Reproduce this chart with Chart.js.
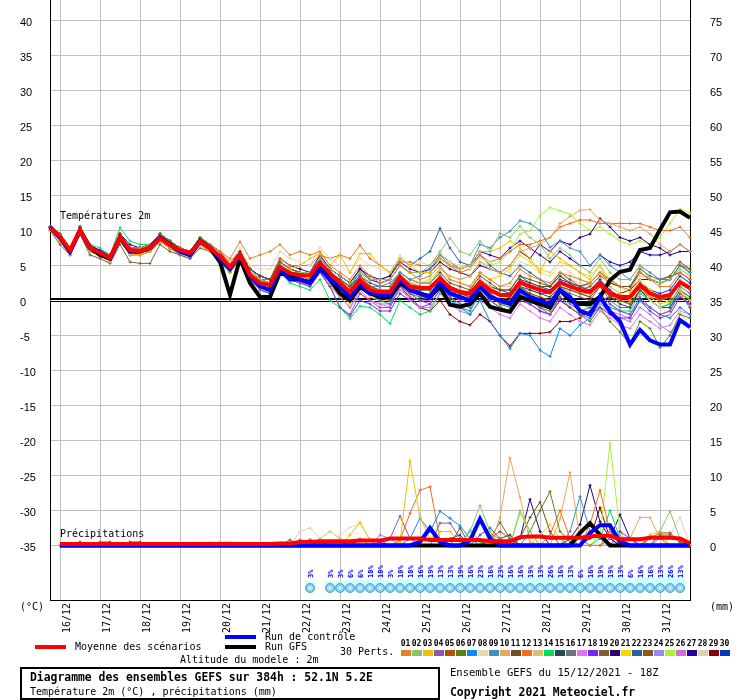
<!DOCTYPE html>
<html><head><meta charset="utf-8">
<script src="https://cdn.jsdelivr.net/npm/chart.js@4.4.1/dist/chart.umd.min.js"></script>
<style>
html,body{margin:0;padding:0;background:#fff;width:740px;height:700px;overflow:hidden;position:relative}
canvas{position:absolute;left:0;top:0}
.t{position:absolute;font:10px 'DejaVu Sans Mono',monospace;line-height:12px;white-space:pre;color:#000}
.b{font-weight:bold;font-size:11.4px;line-height:14px}
.ln{position:absolute;height:4px;width:31px}
.sq{position:absolute;top:650px;width:10px;height:6px}
.num{position:absolute;top:639px;width:11px;text-align:center;font:bold 8px 'DejaVu Sans Mono',monospace;line-height:10px;color:#000}
#box{position:absolute;left:20px;top:667px;width:420px;height:33px;border:2px solid #000;box-sizing:border-box}
</style></head>
<body>
<canvas id="c" width="740" height="640"></canvas>
<div class="t" style="left:20px;top:601px">(°C)</div>
<div class="t" style="left:710px;top:601px">(mm)</div>
<div class="t" style="left:60px;top:210px">Températures 2m</div>
<div class="t" style="left:60px;top:528px">Précipitations</div>
<div class="ln" style="left:35px;top:645px;background:#ff0000"></div>
<div class="t" style="left:75px;top:641px">Moyenne des scénarios</div>
<div class="ln" style="left:225px;top:635px;background:#0000ff"></div>
<div class="t" style="left:265px;top:631px">Run de contrôle</div>
<div class="ln" style="left:225px;top:645px;background:#000"></div>
<div class="t" style="left:265px;top:641px">Run GFS</div>
<div class="t" style="left:340px;top:646px">30 Perts.</div>
<div class="t" style="left:180px;top:654px">Altitude du modele : 2m</div>
<div id="legendNums"></div>
<div id="box"></div>
<div class="t b" style="left:30px;top:670px">Diagramme des ensembles GEFS sur 384h : 52.1N 5.2E</div>
<div class="t" style="left:30px;top:686px">Température 2m (°C) , précipitations (mm)</div>
<div class="t" style="left:450px;top:666px;font-size:10.5px">Ensemble GEFS du 15/12/2021 - 18Z</div>
<div class="t b" style="left:450px;top:685px">Copyright 2021 Meteociel.fr</div>
<script>
// ---- categories / tick labels (6-hourly steps from 15/12 18Z) ----
const timeLabels = ['','16/12','','','','17/12','','','','18/12','','','','19/12','','','','20/12','','','','21/12','','','','22/12','','','','23/12','','','','24/12','','','','25/12','','','','26/12','','','','27/12','','','','28/12','','','','29/12','','','','30/12','','','','31/12','','',''];
const leftTicks = [-35,-30,-25,-20,-15,-10,-5,0,5,10,15,20,25,30,35,40];
const rightTicks = [0,5,10,15,20,25,30,35,40,45,50,55,60,65,70,75];

// ---- snow probability (%) per step ----
const snowPct = [null,null,null,null,null,null,null,null, null,null,null,null,null,null,null,null, null,null,null,null,null,null,null,null,
 null,null,3,null,3,3,6,6, 10,10,3,10,10,16,19,13, 13,19,16,23,16,23,16,16, 19,13,26,16,13,6,16,19, 19,13,6,16,16,13,26,13, null];

// ---- temperature 2m (°C) ----
const tMean = [10.4,9.1,7.2,10.1,7.5,6.8,6.1,9.1, 7.2,7.0,7.5,8.9,7.9,7.2,6.8,8.4, 7.5,6.3,4.8,6.5,3.6,2.5,2.2,4.8, 3.9,3.6,3.6,5.4,3.9,2.5,1.2,2.9, 1.5,1.2,1.2,3.4,2.0,1.8,1.8,3.2, 1.8,1.2,1.0,2.6,1.5,0.8,0.8,2.6, 2.0,1.5,1.2,2.6,2.0,1.5,1.2,2.5, 1.0,0.5,0.5,2.2,1.0,0.5,0.8,2.6, 1.8];
const tControl = [10.5,9,7,10,7.5,7,6,9, 7,7,7.5,9,8,7,6.5,8.5, 7.5,6,4.5,6.5,3.5,2,1.5,4.5, 3,3,2.5,4.5,3,2,0.5,2.5, 1,0.8,0.8,3,1.5,1,0.5,2.5, 1,0.5,0,2,0.5,0,-0.5,1.5, 0.5,0,-0.5,1.5,0.5,-1.5,-2,0.5, -1.6,-3,-6.3,-4.2,-5.7,-6.3,-6.3,-2.8, -3.8];
const tGFS = [10.5,9,7,10,7.5,6.5,6,9, 7,7,7.5,9,8,7,6.5,8.5, 7.5,5.5,0.8,6,2.5,0.5,0.5,4, 3.5,3,2.5,5,3,1,0,2, 1,0.5,0.5,2.5,1.5,1,0.5,2, -0.6,-0.9,-0.5,1,-0.9,-1.3,-1.6,0.5, 0,-0.5,-1,1.5,0,-0.5,-0.5,0.5, 2.9,4.1,4.4,7.2,7.5,10.1,12.6,12.7, 11.8];
const t01 = [10.5,9.5,7.5,10,7.5,7,6.5,9, 7.5,7.5,8,9,8,7.5,7,8.5, 8,7,6,8.4,6,6.5,7,8, 6.5,7,6.5,7,5,4,3,5, 3.5,2.5,3,5,4,3,3.5,5, 3,2.5,2,4,3,2,2.5,4.5, 3.5,3,2.5,4,3.5,3,2.5,4, 3,2,1.5,4,3,2,2,4, 3];
const t02 = [10,9,7,10,7.5,7,6,9, 7,7,7.5,9,8,7,7,8.5, 7.5,6,4.5,6,4,3,2.5,5, 4,4,4,6,4.5,3.5,2.5,4, 3,3,3,5,4,4,5,7, 8.9,7,6.5,8.5,7,9.6,9,10.6, 9,8,6,7.5,6.5,5,4,6, 4,3,3,5,3,2.5,3,4.5, 3.5];
const t03 = [10,8.5,6.5,9.5,7,6.5,5.5,8.5, 6.5,6.5,7,8.5,7.5,7,6.5,8, 7,6,4,6,3,2,1.5,4.5, 4.5,5,6,6.7,5,6.5,4,6.7, 6.7,5,4,6,5,4,4,6, 5,4.5,5,7,7,7.5,8.5,7.5, 6,4,7,6,5,4,3,5, 2,1,0,2,0.5,-0.5,0,1.5, 0];
const t04 = [10.5,9,7,10,7.5,6.5,6,9, 7,7,7.5,8.5,7.5,7,6.5,8, 7,6,4,6,3,1.5,1,4, 3,2.5,2,4,2,-1,-2,1, 0,-1,-1,2,1,0,-0.5,1.5, 0.5,-0.5,-1,1,0,-1,-1.5,1, 0,-1,-2,0.5,-0.5,-1.5,-1,1, -0.5,-1.5,-2,0.5,-1,-2,-1.5,1, 0];
const t05 = [10,9,7,10,7.5,7,6,9.5, 7.5,7,7.5,9,8,7.5,7,8.5, 7.5,6.5,5,6.5,4,3,2.5,5, 4,3.5,3,5,4,3,2,3.5, 2,1.5,1,3,2,2,1.5,3, 1.5,1,0.5,2,1,-0.5,0,2, 1,0.5,0,2,1.5,1,0.5,2, 0.5,0,-0.5,1.5,0.5,0,0.5,2.5, 1.5];
const t06 = [10.5,9.5,7.5,10.5,8,7,6.5,9.5, 7.5,7.5,8,9.5,8.5,7.5,7,9, 8,6.5,5,7,4,3,2.5,5.5, 4.5,4,3.5,5,4,3,2,3, 2,1,1,3,2,1.5,1.5,3, 1.5,0.5,0,2,0.5,-0.5,-1,1, 0,-1,-1.5,0.5,-1,-2,-3,-1, -3,-4.5,-6.2,-3,-4,-6.7,-5,-2, -2.5];
const t07 = [10,9,7,10,7.5,6.5,6,9, 7,7,7.5,9,8,7,6.5,8.5, 7.5,6,4.5,6.5,3.5,2,1.5,4.5, 3.5,3,2.5,4.5,3,1.5,0,2, 1,0,-0.5,2.5,1,0,0.5,2.5, 0.5,-1,-2,0,-3,-5,-6.9,-4.7, -5,-7.1,-8,-4,-5,-3.5,-2.5,0, -1,-1.5,-2,0,-1,-2,-2.5,-1, -2];
const t08 = [10.5,9,7.5,10,8,7,6.5,9, 7.5,7,7.5,9,8,7.5,7,8.5, 7.5,6.5,5.5,7.5,5,4.5,4.5,7, 6,5.5,5,7.6,6,5,4,6, 5,4.5,4,6.5,5,5.5,5,7, 5.5,5,4.5,6,5.5,4.5,4,5.5, 5,4,3.5,5,4,3,2.5,4, 2,1,0.5,2,0,-1,-2,-1.5, -4];
const t09 = [10.5,9.5,7,10,7.5,7,6,9, 7,7,7.5,9,8,7,6.5,8.5, 7.5,6,4.5,6.5,3.5,2.5,2,5, 4,3.5,3.5,5.5,4,3,1.5,3.5, 2,2,2.5,4,3,3.5,4.5,6.5, 5.5,4.5,5,8,7.5,9,9.9,11.4, 11,10,7.6,8.5,7.5,7,5,6.5, 5,4,3,5,4,3,3,5, 4];
const t10 = [10,9,7,10,7.5,6.5,6,9, 7,7,7.5,9,8,7,6.5,8.5, 7.5,6,4.5,6.5,3.5,2.5,2,5, 4,3.5,3.5,5.5,4,2.5,1.5,3, 2,1.5,1.5,4,3,2.5,2.5,4.5, 3.5,3,3.5,5.5,4.5,4,5,7, 7.5,8,9,11,12,12.9,13,11.5, 11,10.5,10,10.5,9.5,8,7,8, 7];
const t11 = [10,9,7,10,7.5,6.5,6,9, 7,7,7,8.5,7.5,7,6.5,8, 7,6,5,7,4.5,3.5,3,5.5, 4.5,4,4,5.5,4,3,2,3.5, 2.5,2,2,4,3,2.5,2.5,4, 2.5,2,1.5,3.5,2.5,1.5,1.5,3.5, 2.5,2,2,3.5,2.5,2,2.5,4, 2.5,2,2,4,3,2.5,3,5, 4];
const t12 = [10.5,9.5,7.5,10.5,8,7,6.5,9.5, 7.5,7.5,8,9.5,8.5,7.5,7,9, 8,7,5.5,7,4.5,3,3,6, 5,5,5,6.5,6,6.5,6,7.9, 6,5,4,5.5,5.5,5,5,6.5, 5,4,4.5,6.5,5.5,6,7,8, 8,8.5,9,10.5,11,11.5,11.5,11, 11,11,11,11,10.5,10,10,10.5, 9];
const t13 = [10,9,7,10,7.5,7,6,9, 7,7,7.5,9,8,7,6.5,8.5, 7.5,6,5,6.5,4,3,2.5,5, 4,3.5,3.5,5,4,2.5,1,3, 1.5,1,1.5,3.5,2.5,2,2,3.5, 2,1.5,1,3,2,1,1,2.5, 2,1.5,1,2.5,2,1,1,2.5, 1,0,0,2,1,0,0.5,3, 2];
const t14 = [10.5,9.5,7.5,10.5,8,7.5,6.5,10.4, 8.5,8,8,9.5,8.5,7.5,7,9, 8,6,4,6,3,2,1,4, 2.5,2,1.5,3,0,-1,-2.6,-0.8, -1,-2,-3.3,0,-1,-2,-1.5,1, 0,-1,-1.5,1,0,-1,0,2, 1,0,-0.5,1.5,0.5,-0.5,-1,1, -0.5,-1.5,-1.5,1,0,-1,-0.5,1.5, 0];
const t15 = [10.5,9,7,10,7.5,7,6,9, 7,7,7.5,9,8,7,7,8.5, 7.5,6.5,5,6.5,3.5,2.5,2,4.5, 3.5,3.5,3.5,5.5,4,2.5,1,3, 1.5,1,1,3,2,1.5,1.5,3, 1.5,1,0.5,2.5,1,0,0,2, 1.5,1,0.5,2,1.5,1,0.5,2, 0.5,-0.5,-1,1.5,0,-1,-1,1.5, 0.5];
const t16 = [10,8.5,7,9.5,7,6.5,5.5,8.5, 6.5,6.5,7,8.5,7.5,6.5,6,8, 7,5.5,4,6,3,2,1.5,4, 3,3,3,5,3.5,2,0.5,2.5, 1,0.5,0.5,2.5,1.5,1,1,3, 1,0.5,0,2,1,0,0,2, 1,0.5,0,2,1,0.5,0,2, 0,-1,-1,1.5,0,-1,-0.5,2, 1];
const t17 = [10,9,7,10,7.5,6.5,6,9, 7,7,7.5,9,8,7,6.5,8.5, 7.5,6,4.5,6,3.5,2.5,2,4.5, 3,2.5,2,4,2.5,0.5,-1,1.5, 0,-0.5,-1,2,0,-1,-1,1, -0.5,-1.5,-2,0,-1,-2,-2.5,-0.5, -1.5,-2.5,-3,-1,-2,-3,-3.5,-1.5, -2.5,-3.5,-4,-2,-3,-4,-3.5,-1.5, -2];
const t18 = [10.5,9,7,10,7.5,7,6,9, 7,7,7.5,9,8,7.5,7,8.5, 7.5,6,5,6.5,3.5,2.5,2,5, 3.5,3,2.5,4,2,-1,-2.2,0, -0.5,-1.5,-1.5,1,0,-1,-0.5,1.5, 0,-1,-1.5,1,0,-1,-1.5,0, -0.5,-1.5,-2,0,-1,-2,-2,-1, -2,-2.5,-2.5,0,-1.5,-2.5,-2,0.5, -0.5];
const t19 = [10,8,6.5,9.5,6.5,6,5.3,8, 5.5,5.3,5.3,8,7,6.5,6,7.5, 7,5.5,4,6,3,1.5,1,4, 3,2.5,2,4,2.5,1.5,0.5,2, 1,0.5,0,2,1,0.5,0.5,2.5, 1.5,1,0.5,3,2,1.5,1.5,3.5, 3,2.5,2,4,3,2,2.5,4, 3,2,2,4.5,3.5,3,3.5,5.5, 4.5];
const t20 = [10.5,9.5,7.5,10.5,8,7,6.5,9.5, 7.5,7.5,8,9.5,8.5,7.5,7,9, 8,7,5,7,4.5,3.5,3,6, 5,4.5,4,6,4.5,3.5,2.5,4.5, 3.5,3,3.5,5.5,4.5,4,4,5.5, 4.5,4,3.5,5,4.5,4,5,7, 6,8,7,8.5,8,9,9.5,11.7, 10.5,9,8.5,9,8,7.5,6.5,7, 7];
const t21 = [10,8.5,6.5,9.5,7,6.5,5.5,8.5, 6.5,6.5,7,8.5,7.5,6.5,6,8, 7,6,4.5,6,3.5,2,1.5,4, 3,3,2.5,4,2,1,-0.5,2, 0.5,0,0,2.5,1.5,1,1,3, 1.5,1,1.5,4,3,3.5,4.5,6.5, 5.5,4.5,4,5.5,5,4,3.5,5, 3,2,1,3,1.5,0.5,-0.5,1, -0.7];
const t22 = [10.5,9,7,10,7.5,7,6,9, 7,7,7.5,9,8,7,6.5,8.5, 7.5,6.5,5,6.5,4,3,2.5,5, 4,3.5,3.5,5.5,4,3,2,4, 3,3,3.5,6,5,6,7,10.3, 7.5,5.5,5,6.5,5,4,3.5,5, 4,3,2,3.5,2.5,1.5,1,2.5, 1,0,-0.5,1.5,0,-1,-1,1, -1];
const t23 = [10,9,7,10,7.5,6.5,6,9, 7,6.5,7,8.5,7.5,7,6.5,8, 7,6,4.5,6,3,2,1.5,4, 3,3,2.5,4.5,3,1.5,0,2, 1,0.5,0,2.5,1.5,1,1,2.5, 1.5,0.5,0,2,1,0,0.5,2.5, 1.5,1,1,2.5,2,1.5,2,3.5, 2.5,2,2,4,3,2.5,3,5, 4.5];
const t24 = [10.5,9,7,10,7.5,7,6,9, 7,7,7.5,9,8,7.5,7,8.5, 7.5,6,4.5,6.5,3.5,2.5,2,4.5, 3.5,3,3,5,3.5,2,1,3, 1,0.5,0.5,3,1.5,1,0.5,2.5, 1,0,-0.5,1.5,0,-1,-1.5,0.5, -0.5,-1.5,-2,0,-1,-2,-2.5,-0.5, -1.5,-2.5,-3,-1,-2,-3.5,-4.5,-3, -3.5];
const t25 = [10,9,7,10,7.5,7,6,9, 7,7,7.5,9,8,7,6.5,8.5, 7.5,6,4.5,6,3.5,2.5,2,4.5, 3.5,3.5,3,5,3.5,2,1,3, 1.5,1,1.5,3.5,2.5,2.5,3,4.5, 3.5,3,3.5,5.5,5,5.5,7,9.5, 10,12.1,13.3,12.8,12.3,11,10,10.5, 9.5,8.5,8,8.5,8,9,11,13.1, 12.5];
const t26 = [10,9,7,10,7.5,6.5,6,9, 7,7,7.5,8.5,7.5,7,6.5,8, 7.5,6,4.5,6,3.5,2,1.5,4, 3,2.5,2,4,2,0.5,-1,1, 0,-0.5,-0.5,1.5,0.5,0,0,2, 0.5,-0.5,-1,1,0,-1,-1.5,0.5, -0.5,-1.5,-2,0,-1,-2,-2.5,-1, -1.5,-2,-2.5,0,-1,-2,-1.5,1, -1];
const t27 = [10.5,9.5,7.5,10.5,8,7,6.5,9.5, 8,7.5,8,9.5,8.5,7.5,7,9, 8,6.5,5.5,7,4.5,3.5,3,5.5, 4.5,4,4,6.5,4.5,3.5,2.5,4.5, 3,2.5,3,5,4,4,4.5,6, 5,4.5,5,7,6.5,6,7.5,8.5, 7.5,6.5,5.5,7,6,5,5,6.5, 5.5,5,5.5,7,6.5,6.5,7,8, 7];
const t28 = [10.5,9,7,10,7.5,7,6,9, 7.5,7,7.5,9,8,7.5,7,8.5, 7.5,6.5,5,7,4.5,3.5,3,5.5, 4.5,4,4,6,4.5,3.5,2.5,4, 2.5,2,2,4,3,2.5,2.5,4, 3,2.5,2,4,3,2,2,3.5, 3,2.5,2,3.5,3,2.5,2,3.5, 2.5,2,2,3.5,3,3,3.5,5.5, 4];
const t29 = [10,9,7,10,7.5,7,6,9, 7,7,7.5,8.5,7.5,7,6.5,8, 7.5,6,4.5,6,3,2,1.5,4, 3,3,2.5,4.5,3,1.5,0.5,2.5, 1,0.5,0,2,0.5,-1,-1.5,0, -2,-3,-3.5,-2,-3,-5,-6.5,-4.7, -4.7,-4.7,-4.5,-3,-3,-2.5,-1.5,0, 0.5,1,1.5,3,3,3,3.4,4, 3];
const t30 = [10.5,9.5,7.5,10.5,8,7,6.5,9.5, 7.5,7.5,8,9.5,8,7.5,7,8.5, 7.5,6.5,5,7,4,3,2.5,5, 4,3.5,3.5,5.5,4,2.5,1.5,3.5, 2,1.5,1.5,3.5,2.5,2,2,3.5, 2,1.5,1,3,2,1.5,1,3, 2.5,2,1.5,3,2.5,2,1.5,3, 1.5,0.5,0.5,2.5,1.5,1,1.5,3.5, 2.5];

// ---- precipitation (mm) ----
const pMean = [null,0.2,0.2,0.2,0.2,0.2,0.2,0.2, 0.2,0.2,0.2,0.2,0.2,0.2,0.2,0.2, 0.2,0.2,0.2,0.2,0.2,0.2,0.2,0.3, 0.3,0.5,0.5,0.6,0.6,0.6,0.6,0.7, 0.7,0.7,1.0,1.0,1.0,1.0,0.8,0.8, 0.8,0.8,0.8,0.8,0.6,0.6,0.6,1.2, 1.3,1.3,1.1,1.1,1.1,1.1,1.3,1.4, 1.4,0.9,0.9,0.9,1.1,1.1,1.1,1.0, 0.3];
const pControl = [null,0,0,0,0,0,0,0, 0,0,0,0,0,0,0,0, 0,0,0,0,0,0,0,0, 0,0,0,0,0,0,0,0, 0,0,0,0,0,0.5,2.5,0.5, 0,0,0.7,3.8,1,0,0,0, 0,0,0,0,0,0,1.8,2.9, 2.9,0.5,0,0,0,0,0,0, 0];
const pGFS = [null,0,0,0,0,0,0,0, 0,0,0,0,0,0,0,0, 0,0,0,0,0,0,0,0, 0,0,0,0,0,0,0,0, 0,0,0,0,0,0,0,0, 0,0,0,0,0,0,0,0, 0,0,0,0,0,1.8,3.2,1.5, 0,0,0,0,0,0,0,0, 0];
const p01 = [null,0,0,0,0,0,0,0, 0,0,0,0,0,0,0,0, 0,0,0,0,0,0,0,0, 0,0,0,0,0,0,0.5,1, 0,0,0,0,0,0,0,0, 0,0,0,0,1.5,1,0,0, 0,0,0,0,0,0,0,0, 2,1,0,0,0,0,0,0, 0];
const p02 = [null,0,0,0,0,0,0,0, 0,0,0,0,0,0,0,0.4, 0.4,0,0,0,0,0,0,0, 0,0,0,0,0,0,0,0, 0,0,0,0,0,0,0,0, 0,0,2,5.7,2,0,0,5, 2,0,0,0,0,0,0,0, 0,0,0,0,0,2,4.9,1, 0];
const p03 = [null,0,0,0,0,0,0,0, 0,0,0,0,0,0,0,0, 0,0,0,0,0,0,0,0, 0,0,0,0,0,0,1.5,3.3, 0.7,0,0,0.5,12.1,4,1,2, 2,0.5,0,0,0,0,0,0, 0,0,0,0,0,0,0,0, 0,0,0,0,0,0,0,0, 0];
const p04 = [null,0,0,0,0,0,0,0, 0,0,0,0,0,0,0,0, 0,0,0,0,0,0,0,0, 0,0.8,0,0,0,0,0,0, 0,0,1,4.2,1,0,0,3.2, 3.2,1,0,0,0,0,0,0, 0,0,0,0,0,0,0,0, 0,0,0,0,0,0,0,0, 0];
const p05 = [null,0,0,0,0,0,0,0, 0,0,0,0,0,0,0,0, 0,0,0,0,0,0,0,0, 0,0,0.5,0,0,0,0,0, 0,0,0,0,0,0,0,0, 0,0,0,0,1,2,1,0, 0,0,0,0,0,0,0,0, 0,0,0,0,0,0,0,0, 0];
const p06 = [null,0,0,0,0,0,0,0, 0,0,0,0,0,0,0,0, 0,0,0,0,0,0,0,0, 0,0,0,0,0,0,0,0, 0,0,0,0,0,0,0,0, 0,0,0,0,0,0,0,0, 2,5,7.7,2,0.5,0,0,0, 0,0,0,0,0,0,0,0, 0];
const p07 = [null,0,0,0,0,0,0,0, 0,0,0,0,0,0,0,0, 0,0,0,0,0,0,0,0, 0,0,0,0,0,0,0,0, 0,0,0,0,1,3.9,2,4.9, 3.9,2.8,1,0,0,0,0,0, 0,0,0,0,0,0,0,0, 0,0,0,0,0,0,0,0, 0];
const p08 = [null,0,0,0,0,0,0,0, 0,0,0,0,0,0,0,0, 0,0,0,0,0,0,0,0, 0,0,0,0,0,1.5,2.6,3.1, 1,0,0,0,0,0,0,0, 0,0,0,0,0,0,0,0, 0,0,0,0,0,1,1.5,0, 0,0,0,0,0,0,0,0, 0];
const p09 = [null,0,0,0,0,0,0,0, 0,0,0,0,0,0,0,0, 0,0,0,0,0,0,0,0, 0,0,0,0,0,0,0,0, 0,0,0,0,0,0,0,0, 0,0,0,0,0,0,0,0, 0,0,0,0,2,7,2,1, 0,0,0,0,0,0,0,0, 0];
const p10 = [null,0,0,0,0,0,0,0, 0,0,0,0,0,0,0,0, 0,0,0,0,0,0,0,0, 0,0,0,0,0,0,0,0, 0,0,0,0,0,0,0,0, 0,0,0,0,0,4,12.5,6.9, 0.5,0,0,3.8,10.4,1,0,0, 0,0,1,4,4,1,0,0, 0];
const p11 = [null,0,0,0.5,0,0,0,0, 0.5,0.5,0,0,0,0,0,0, 0,0,0,0,0,0,0,0, 0,0,0,0,0,0,0,0, 0,0,0,0,0,0,0,0, 0,2.5,0,0,0,0,0,1, 4,6.2,2,0,0,0,0,0, 0,0,0,0,0,0,0,0, 0];
const p12 = [null,0,0,0,0,0,0,0, 0,0,0,0,0,0,0,0, 0,0,0,0,0,0,0,0, 0,0,0,0,0,0,0,0, 0,0,0,0.8,4.6,7.9,8.4,0.8, 0,0,0,0,0,0,0,0, 0,0,1.5,5,1,0,3,7.9, 2,0,0,0,0,0,0,0, 0];
const p13 = [null,0,0,0,0,0,0,0, 0,0,0,0,0,0,0,0, 0,0,0,0,0,0,0,0, 0,0,0,1,2,1,0,0, 0,0,0,0,0,0,0,0, 0,0,0,0,0,0,1,0, 0,0,0,0,0,0,0,0, 0,0,0,0,0,0,0,0, 0];
const p14 = [null,0,0,0,0,0,0,0, 0,0,0,0,0,0,0,0, 0,0,0,0,0,0,0,0, 0,0,0,0,0,0,0,0, 0,0,0,0,0,0,0,0, 0,0,2.2,0.5,0,0,0,0, 0,0,0,0,0,0,0,1, 5,1,0,0,0,0,0,0, 0];
const p15 = [null,0,0,0,0,0,0,0, 0,0,0,0,0,0,0,0, 0,0,0,0,0,0,0,0, 0,0,0,0,0,0,0,0, 0,0,0,0,0,0,0,0, 0,0,0,0,0,1,1.5,0, 0,0,0,0,0,1,0,0, 0,0,0,0,0,0,0,0, 0];
const p16 = [null,0,0,0,0,0,0,0, 0,0,0,0,0,0,0,0, 0,0,0,0,0,0,0,0, 0,0,0,0,0,0,0,0, 0,0,0,0,0,0,0,0, 0,0,0,0,0,0,0,0, 0,0,0,0,0,0,1.5,1, 0,0,0,0,0,0,0,0, 0];
const p17 = [null,0,0,0,0,0,0,0, 0,0,0,0,0,0,0,0, 0,0,0,0,0,0,0,0, 0,0,0,0,0,0,0,0, 0,0,0,0,0,0,0,0, 0,0,0,0,0,0,0,0, 0,0,0,0,0,0,0,0, 1,1.5,0,1,0,0,0,0, 0];
const p18 = [null,0,0,0,0,0,0,0, 0,0,0,0,0,0,0,0, 0,0,0,0,0,0,0,0, 0,0,0,0,0,0,0,0, 0,0.5,0,0,0,0,0,0, 0,0,0,0,0,0,0,0, 0,0,0,0,0,0,0,0, 0,2,1,0,0,0,0,0, 0];
const p19 = [null,0,0,0,0,0.5,0.5,0, 0,0,0,0,0,0,0,0, 0,0,0,0,0,0,0,0, 0,0.5,0.8,0.5,0,0,0,0, 0,0,0,0,0,0,0,0, 0,0,0,0,1,3.3,1,0, 0,0,0,0,0,0,0,0, 0,0,0,0,0,1.5,1.5,0.5, 0];
const p20 = [null,0,0,0,0,0,0,0, 0,0,0,0,0,0,0,0, 0,0,0,0,0,0,0,0, 0,0,0,0,0,0,0,0, 0,0,0,0,0,0,0,0, 0,0,0,0,0,0,0,0, 0,0,0,0,1,3,8.6,3.4, 1,0,0,0,0,0,0,0, 0];
const p21 = [null,0,0,0,0,0,0,0, 0,0,0,0,0,0,0,0, 0,0,0,0,0,0,0,0, 0,0,0,0,0,0,0,0, 0,0,0,0,0,0,0,0, 0,0,0,0,0,0,0,0, 0,1.5,3,1,0,0,0,0, 0,0,0,0,1.5,2,0,0, 0];
const p22 = [null,0,0,0,0,0,0,0, 0,0,0,0,0,0,0,0, 0,0,0,0,0,0,0,0, 0,0,0,0,0,0,0,0, 0,0,0,0,0,0,0,0, 0,0,0,1.5,2.5,1,0,0, 0,0,0,0,0,0,0,0, 0,0,0,0,0,0,0,0, 0];
const p23 = [null,0,0,0,0,0,0,0, 0,0,0,0,0,0,0,0, 0,0,0,0,0,0,0,0, 0.8,0,0,0,0,0,0,0, 0,0,0,0,0,0,0,0, 0,0,0,0,0,0,0,0, 0,0,0,0,0,0,0,0, 0,0,0,0,1,1.8,1.8,0.5, 0];
const p24 = [null,0,0,0,0,0,0,0, 0,0,0,0,0,0,0,0, 0,0,0,0,0,0,0,0, 0,0,0,0,0,0,0,0, 0,1.5,1,0,0,0,0,0, 0,0,0,0,0,0,0,0, 0,0,0,0,0,0,0,0, 0,0,0,0,0,1,0,0, 0];
const p25 = [null,0,0,0,0,0,0,0, 0,0,0,0,0,0,0,0, 0,0.5,0.5,0,0,0,0,0, 0,0,0.8,0,0,0,0,0, 0,0,0,0,0,0,0,0, 0,0,0,0,0,0,0,4.6, 2,0,0,0,0,0,0,1.5, 14.6,2,0,0,0,0,0,0, 0];
const p26 = [null,0,0,0,0,0,0,0, 0,0,0,0,0,0,0,0, 0,0,0,0,0,0,0,0, 0,0,0,0,0,0,0.5,0, 0,0,0,0,0,0,0,0, 0,0,0,0,0,0,0,0, 0,0,0,0,0,0,0,0, 0,0,0,0,1.5,1,0,0, 0];
const p27 = [null,0,0,0,0,0,0,0, 0,0,0,0,0,0,0,0, 0,0,0,0,0,0,0,0, 0,0,0,0,0,0,0,0, 0,0,0,0,0,0,0,0, 0,0,0,0,0,0,0,1, 6.6,2,0,0,0,0,0,0, 1,4.4,1,0,0,0,0,0, 0];
const p28 = [null,0,0,0,0,0,0,0, 0,0,0,0,0,0,0,0, 0,0,0,0,0,0,0,0, 0,2,2.5,1,0,0,0,0, 0,0,0,0,0,0,0,0, 0,0,0,0,0,0,0,0, 0,0,0,0,0,0,0,0, 0,0,0,0,0,0,1.5,4, 0];
const p29 = [null,0,0,0,0,0,0,0, 0,0,0,0,0,0,0,0, 0,0,0,0,0,0,0,0, 0,0,0,0,0,0,0,0, 0,0,0,0,0,0,0,0, 0,0,0,0,0,0,0,0, 0,0,0,0,0,0,1,5.4, 1,0,0,0,0,0,0,0, 0];
const p30 = [null,0,0,0,0,0,0,0, 0,0,0,0,0,0,0,0, 0,0,0,0,0,0,0,0, 0,0,0,0,0,0,0,0, 0,0,0,0,0,0,0,0, 1,1.5,0,0,0,0,0,0, 0,0,0,0,0,0,0,0, 0,0,0,0,0,0,0,0, 0];

const memberNames = ['01','02','03','04','05','06','07','08','09','10','11','12','13','14','15','16','17','18','19','20','21','22','23','24','25','26','27','28','29','30'];
const memberColors = ['#e8802a','#88c46a','#f0c000','#8c58b0','#b0500c','#5a8410','#0a88f8','#e8d8b0','#3c90c0','#e8a85a','#6a5020','#f86820','#d4c078','#00e060','#284858','#687480','#e070f8','#8020f8','#806030','#300070','#f0d800','#2860a0','#905820','#9888f0','#a0f830','#d070d0','#2000a0','#e0d0b0','#880000','#0038c0'];
const memberTemps = [t01,t02,t03,t04,t05,t06,t07,t08,t09,t10,t11,t12,t13,t14,t15,t16,t17,t18,t19,t20,t21,t22,t23,t24,t25,t26,t27,t28,t29,t30];
const memberPrecs = [p01,p02,p03,p04,p05,p06,p07,p08,p09,p10,p11,p12,p13,p14,p15,p16,p17,p18,p19,p20,p21,p22,p23,p24,p25,p26,p27,p28,p29,p30];

// axis ranges: 7 px per unit, 0°C at y=300.5 ; precipitation 0 mm = -35 °C
const T_MIN = -42.786, T_MAX = 42.929, P_OFFSET = 35;

// legend squares
const ln = document.getElementById('legendNums');
memberNames.forEach((n, i) => {
  const d = document.createElement('div'); d.className = 'num'; d.style.left = (400 + 11 * i) + 'px'; d.textContent = n; ln.appendChild(d);
  const s = document.createElement('div'); s.className = 'sq'; s.style.left = (401 + 11 * i) + 'px'; s.style.background = memberColors[i]; ln.appendChild(s);
});

const datasets = [];
const thick = (data, color, axis, order) => ({data, borderColor: color, backgroundColor: color, borderWidth: 4, pointRadius: 0, yAxisID: axis, order, tension: 0, spanGaps: true});
datasets.push(thick(tMean, '#ff0000', 'y', 0));
datasets.push(thick(tControl, '#0000ff', 'y', 1));
datasets.push(thick(tGFS, '#000000', 'y', 2));
datasets.push(thick(pMean, '#ff0000', 'y2', 0));
datasets.push(thick(pControl, '#0000ff', 'y2', 1));
datasets.push(thick(pGFS, '#000000', 'y2', 2));
memberTemps.forEach((arr, i) => datasets.push({data: arr, borderColor: memberColors[i], backgroundColor: memberColors[i], borderWidth: 1, pointStyle: 'cross', pointRadius: 1.5, pointBorderWidth: 1, yAxisID: 'y', order: 10, tension: 0}));
memberPrecs.forEach((arr, i) => datasets.push({data: arr, borderColor: memberColors[i], backgroundColor: memberColors[i], borderWidth: 1, pointStyle: 'cross', pointRadius: 1.5, pointBorderWidth: 1, yAxisID: 'y2', order: 10, tension: 0, spanGaps: true}));

const extras = {
  id: 'extras',
  beforeDatasetsDraw(chart) {
    const c = chart.ctx, a = chart.chartArea, y0 = Math.floor(chart.scales.y.getPixelForValue(0));
    c.save();
    c.fillStyle = '#000';
    c.fillRect(a.left, y0 - 2, a.right - a.left, 2);
    c.fillStyle = '#fff';
    c.fillRect(a.left + 1, y0, a.right - a.left - 1, 1);
    c.fillStyle = '#000';
    c.fillRect(a.left, y0 + 1, a.right - a.left, 1);
    c.restore();
  },
  afterDraw(chart) {
    const c = chart.ctx, xs = chart.scales.x;
    c.save();
    snowPct.forEach((p, k) => {
      if (p == null) return;
      const x = Math.round(xs.getPixelForValue(k));
      const top = 582 - p * 0.3;
      c.fillStyle = '#ccffff';
      c.fillRect(x - 5, top, 10, 592 - top);
    });
    snowPct.forEach((p, k) => {
      if (p == null) return;
      const x = Math.round(xs.getPixelForValue(k)), cy = 588;
      c.beginPath(); c.arc(x, cy, 4.5, 0, Math.PI * 2);
      c.fillStyle = '#7cc8ec'; c.fill();
      c.strokeStyle = '#4aa6d6'; c.lineWidth = 1; c.stroke();
      c.strokeStyle = '#e0f8ff'; c.lineWidth = 1;
      c.beginPath();
      for (let j = 0; j < 3; j++) {
        const ang = j * Math.PI / 3;
        c.moveTo(x - 3 * Math.cos(ang), cy - 3 * Math.sin(ang));
        c.lineTo(x + 3 * Math.cos(ang), cy + 3 * Math.sin(ang));
      }
      c.stroke();
      c.save();
      c.translate(x + 2.5, 578);
      c.rotate(-Math.PI / 2);
      c.font = 'bold 7px "DejaVu Sans Mono"';
      c.fillStyle = '#0000ff';
      c.textAlign = 'left'; c.textBaseline = 'alphabetic';
      c.fillText(p + '%', 0, 0);
      c.restore();
    });
    c.restore();
  }
};

const zeroPad = s => { s.paddingTop = 0; s.paddingBottom = 0; s.paddingLeft = 0; s.paddingRight = 0; };

new Chart(document.getElementById('c'), {
  type: 'line',
  data: {labels: timeLabels, datasets},
  options: {
    responsive: false, animation: false, devicePixelRatio: 1,
    layout: {autoPadding: false, padding: {left: 20, right: 0, top: 0, bottom: 0}},
    plugins: {legend: {display: false}, tooltip: {enabled: false}},
    elements: {line: {tension: 0}},
    scales: {
      x: {
        type: 'category', offset: false,
        grid: {color: c => (c.tick && c.tick.label) ? '#c0c0c0' : 'rgba(0,0,0,0)', drawTicks: false, lineWidth: 1},
        border: {display: true, color: '#000', width: 1},
        ticks: {autoSkip: false, maxRotation: 90, minRotation: 90, padding: 3, labelOffset: 7, color: '#000', font: {family: 'DejaVu Sans Mono', size: 10}},
        afterFit: s => { s.height = 40; zeroPad(s); }
      },
      y: {
        position: 'left', min: T_MIN, max: T_MAX,
        afterBuildTicks: s => { s.ticks = [-40].concat(leftTicks).map(v => ({value: v})); },
        ticks: {includeBounds: false, padding: 0, crossAlign: 'far', labelOffset: 2, color: '#000', font: {family: 'Liberation Sans', size: 11}, callback: v => v < -35 ? '' : String(v)},
        grid: {color: c => (c.tick && c.tick.value >= -35) ? '#c0c0c0' : 'rgba(0,0,0,0)', drawTicks: false},
        border: {display: true, color: '#000', width: 1},
        afterFit: s => { s.width = 30; zeroPad(s); }
      },
      y2: {
        position: 'right', min: T_MIN + P_OFFSET, max: T_MAX + P_OFFSET,
        afterBuildTicks: s => { s.ticks = rightTicks.map(v => ({value: v})); },
        ticks: {includeBounds: false, padding: 20, labelOffset: 2, color: '#000', font: {family: 'Liberation Sans', size: 11}},
        grid: {display: false, drawTicks: false},
        border: {display: true, color: '#000', width: 1},
        afterFit: s => { s.width = 50; zeroPad(s); }
      }
    }
  },
  plugins: [extras]
});
</script>
</body></html>
